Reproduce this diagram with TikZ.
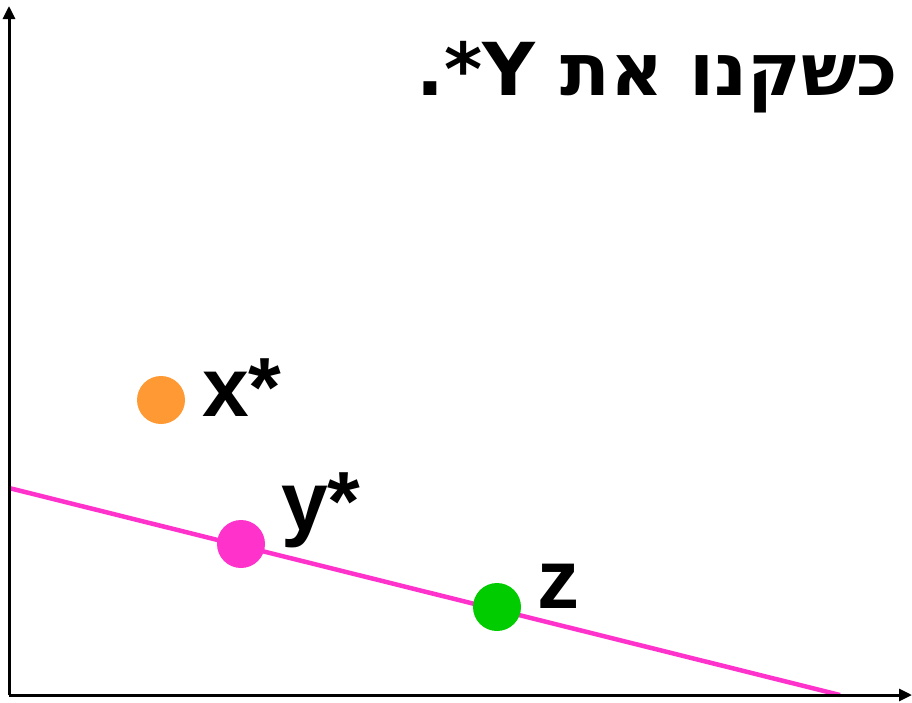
\documentclass[tikz,border=0pt]{standalone}
\usepackage{fontspec}
\usetikzlibrary{arrows.meta}
\TeXXeTstate=1
\newfontfamily\hebfont[Script=Hebrew]{DejaVu Sans}
\newfontfamily\labfont{Liberation Sans}
\definecolor{orng}{HTML}{FF9933}
\definecolor{mgnt}{HTML}{FF33CC}
\definecolor{grn}{HTML}{00CC00}
\begin{document}
\begin{tikzpicture}[x=1pt,y=-1pt,
  axis/.style={line width=3pt,-{Triangle[length=13pt,width=12pt]}},
  dot/.style={circle,inner sep=0pt,minimum size=48pt},
  lab/.style={font=\labfont\bfseries\fontsize{84}{84}\selectfont,anchor=base west,inner sep=0pt}]
\useasboundingbox (0,0) rectangle (912,702);
\coordinate (o) at (9,695);
\coordinate (ytop) at (9,6);
\coordinate (xend) at (912,695);
\coordinate (la) at (9,488);
\coordinate (lb) at (840,695);
\draw[mgnt,line width=4.5pt] (la) -- (lb);
\draw[axis] (o) -- (ytop);
\draw[axis] (o) -- (xend);
\node[dot,fill=orng] (xs) at (161,400) {};
\node[dot,fill=mgnt] (ys) at (241,544) {};
\node[dot,fill=grn] (zz) at (497,607) {};
\node[lab] (xl) at (202,416) {x*};
\node[lab] (yl) at (281,530) {y*};
\node[lab] (zl) at (537,608) {z};
\node[font=\hebfont\bfseries\fontsize{73}{73}\selectfont,anchor=base east,inner sep=0pt] (title) at (898,95) {\beginR כשקנו את Y\kern0pt*\kern0pt.\endR};
\end{tikzpicture}
\end{document}
